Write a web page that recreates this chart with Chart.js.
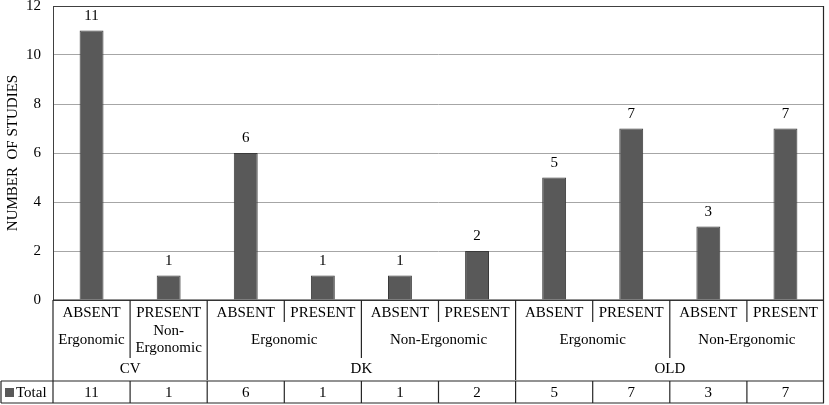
<!DOCTYPE html>
<html>
<head>
<meta charset="utf-8">
<script src="https://cdn.jsdelivr.net/npm/chart.js@4/dist/chart.umd.min.js"></script>
<style>
  html, body { margin: 0; padding: 0; background: #fff; }
  #wrap { width: 829px; height: 405px; }
</style>
</head>
<body>
<div id="wrap"><canvas id="studyChart"></canvas></div>
<script>
// chart data
const conditions = ['ABSENT', 'PRESENT', 'ABSENT', 'PRESENT', 'ABSENT', 'PRESENT', 'ABSENT', 'PRESENT', 'ABSENT', 'PRESENT'];
const ergonomics = ['Ergonomic', 'Non-Ergonomic', 'Ergonomic', 'Ergonomic', 'Non-Ergonomic', 'Non-Ergonomic', 'Ergonomic', 'Ergonomic', 'Non-Ergonomic', 'Non-Ergonomic'];
const groups = ['CV', 'CV', 'DK', 'DK', 'DK', 'DK', 'OLD', 'OLD', 'OLD', 'OLD'];
const totals = [11, 1, 6, 1, 1, 2, 5, 7, 3, 7];
const yTicks = [0, 2, 4, 6, 8, 10, 12];
const seriesName = 'Total';

const FONT = "'Liberation Serif', 'Times New Roman', serif";
const BAR_COLOR = '#595959';
const LINE_COLOR = '#262626';

// table row boundaries (y, px) under the plot
const rowTop = [300, 324, 356, 380];
const totalRow = [381, 403];

// group consecutive equal keys into spans [start, end]
function spans(keys) {
    const out = [];
    keys.forEach((k, i) => {
        const last = out[out.length - 1];
        if (last && last.key === k) last.end = i;
        else out.push({ key: k, start: i, end: i });
    });
    return out;
}

function wrapText(ctx, text, maxW) {
    if (ctx.measureText(text).width <= maxW || text.indexOf('-') < 0) return [text];
    const cut = text.indexOf('-') + 1;
    return [text.slice(0, cut), text.slice(cut)];
}

const tablePlugin = {
    id: 'tablePlugin',
    afterDraw(chart) {
        const ctx = chart.ctx;
        const area = chart.chartArea;
        const x = chart.scales.x;
        const n = conditions.length;
        const step = (area.right - area.left) / n;
        const edge = i => area.left + step * i;

        ctx.save();
        // plot frame
        ctx.strokeStyle = '#404040';
        ctx.lineWidth = 1;
        ctx.strokeRect(area.left + 0.5, area.top + 0.5, area.right - area.left - 1, area.bottom - area.top);

        // value labels above bars
        ctx.fillStyle = '#000';
        ctx.font = '15px ' + FONT;
        ctx.textAlign = 'center';
        ctx.textBaseline = 'bottom';
        const meta = chart.getDatasetMeta(0);
        meta.data.forEach((bar, i) => {
            ctx.fillText(String(totals[i]), bar.x, bar.y - 7);
        });

        ctx.strokeStyle = LINE_COLOR;
        ctx.lineWidth = 1.2;
        const line = (x1, y1, x2, y2) => {
            ctx.beginPath();
            ctx.moveTo(x1, y1);
            ctx.lineTo(x2, y2);
            ctx.stroke();
        };

        // axis line and outer verticals
        line(area.left, rowTop[0], area.right, rowTop[0]);
        line(area.left, rowTop[0], area.left, totalRow[1]);
        line(area.right - 0.5, area.top, area.right - 0.5, totalRow[1]);

        // separators between categories
        for (let i = 1; i < n; i++) {
            let bottom = rowTop[1] - 2;
            if (groups[i] !== groups[i - 1]) bottom = rowTop[3];
            else if (ergonomics[i] !== ergonomics[i - 1]) bottom = rowTop[2] + 2;
            line(edge(i), rowTop[0], edge(i), bottom);
            line(edge(i), totalRow[0], edge(i), totalRow[1]);
        }

        // total row box
        line(1, totalRow[0], area.right, totalRow[0]);
        line(1, totalRow[1], area.right, totalRow[1]);
        line(1, totalRow[0], 1, totalRow[1]);

        ctx.fillStyle = '#000';
        ctx.textBaseline = 'middle';
        ctx.textAlign = 'center';

        // row 1: condition
        conditions.forEach((c, i) => {
            ctx.fillText(c, x.getPixelForValue(i), (rowTop[0] + rowTop[1]) / 2 + 1);
        });

        // row 2: ergonomic / non-ergonomic, spans inside each group
        const ergoKeys = ergonomics.map((e, i) => groups[i] + '|' + e);
        spans(ergoKeys).forEach(s => {
            const label = s.key.split('|')[1];
            const cx = (edge(s.start) + edge(s.end + 1)) / 2;
            const lines = wrapText(ctx, label, edge(s.end + 1) - edge(s.start) - 6);
            const mid = (rowTop[1] + rowTop[2]) / 2;
            lines.forEach((t, k) => {
                ctx.fillText(t, cx, mid + (k - (lines.length - 1) / 2) * 17);
            });
        });

        // row 3: group
        spans(groups).forEach(s => {
            const cx = (edge(s.start) + edge(s.end + 1)) / 2;
            ctx.fillText(s.key, cx, (rowTop[2] + rowTop[3]) / 2 + 1);
        });

        // total row values
        totals.forEach((v, i) => {
            ctx.fillText(String(v), x.getPixelForValue(i), (totalRow[0] + totalRow[1]) / 2 + 1);
        });

        // legend key in the table
        ctx.fillStyle = BAR_COLOR;
        ctx.fillRect(5, 388, 9, 9);
        ctx.fillStyle = '#000';
        ctx.textAlign = 'left';
        ctx.fillText(seriesName, 16, (totalRow[0] + totalRow[1]) / 2 + 1);
        ctx.restore();
    }
};

const ctx = document.getElementById('studyChart').getContext('2d');
new Chart(ctx, {
    type: 'bar',
    data: {
        labels: conditions,
        datasets: [{
            label: seriesName,
            data: totals,
            backgroundColor: BAR_COLOR,
            borderColor: '#3a3a3a',
            borderWidth: 1,
            categoryPercentage: 1,
            barPercentage: 0.31
        }]
    },
    options: {
        responsive: true,
        maintainAspectRatio: false,
        animation: false,
        devicePixelRatio: 1,
        layout: { padding: { top: 6, right: 5, bottom: 105, left: 0 } },
        plugins: {
            legend: { display: false },
            tooltip: { enabled: false }
        },
        scales: {
            x: { display: false },
            y: {
                min: 0,
                max: 12,
                afterBuildTicks: scale => { scale.ticks = yTicks.map(v => ({ value: v })); },
                afterFit: scale => {
                    scale.width = 53;
                    // the top tick label may overflow the frame, as in the reference
                    scale.paddingTop = 0;
                    scale.paddingBottom = 0;
                },
                ticks: {
                    color: '#000',
                    padding: 12,
                    font: { family: FONT, size: 15 }
                },
                grid: {
                    color: '#a6a6a6',
                    lineWidth: 1,
                    drawTicks: false
                },
                border: { display: false },
                title: {
                    display: true,
                    text: 'NUMBER  OF STUDIES',
                    color: '#000',
                    padding: { top: 4, bottom: 0 },
                    font: { family: FONT, size: 15 }
                }
            }
        }
    },
    plugins: [tablePlugin]
});
</script>
</body>
</html>
